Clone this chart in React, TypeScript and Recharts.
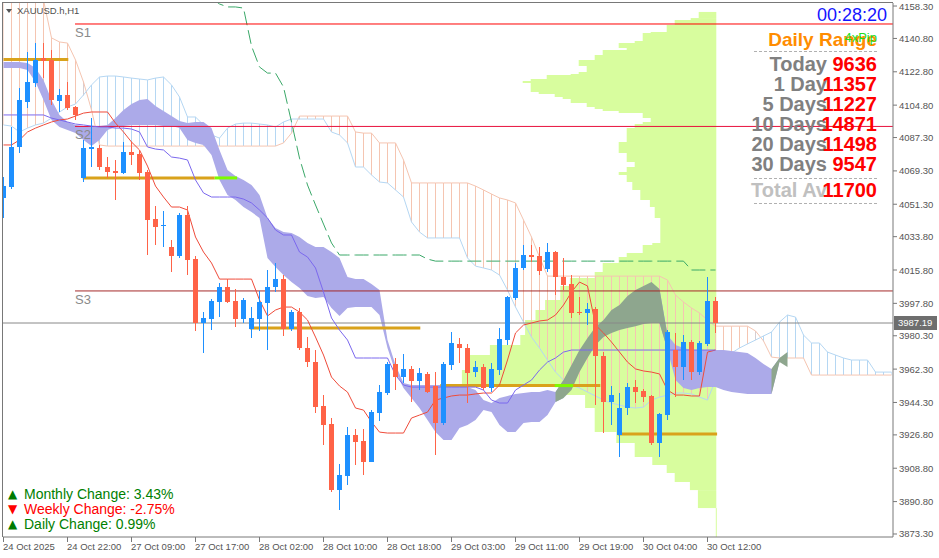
import React from 'react'
import { Area, Bar, ComposedChart, Line, ReferenceArea, ReferenceLine, XAxis, YAxis } from 'recharts'

// XAUUSD.h H1 bars, oldest first
const open = [4054.7, 4060.6, 4082.2, 4106.5, 4116.7, 4130.2, 4129.2, 4107.0, 4110.3, 4103.8,
  4065.5, 4081.1, 4081.6, 4071.4, 4069.2, 4068.2, 4079.5, 4078.4, 4068.7, 4043.3,
  4039.5, 4028.2, 4023.4, 4045.5, 4021.7, 3987.2, 3989.3, 3998.5, 4006.6, 3999.1,
  3989.3, 3983.9, 3989.3, 3998.0, 4006.6, 4010.9, 3983.9, 3993.1, 3973.7, 3966.1,
  3942.4, 3932.7, 3897.0, 3904.6, 3926.7, 3923.5, 3912.2, 3938.6, 3949.4, 3965.1,
  3958.0, 3962.4, 3955.9, 3959.7, 3953.2, 3933.2, 3964.5, 3975.9, 3973.7, 3960.7,
  3963.4, 3952.1, 3961.8, 3978.0, 4000.7, 4016.9, 4023.9, 4023.4, 4016.3, 4025.5,
  4012.0, 4008.2, 3993.1, 3992.6, 3994.7, 3969.4, 3944.5, 3926.7, 3941.3, 3952.6,
  3950.5, 3947.8, 3922.4, 3937.5, 3972.6, 3963.4, 3976.9, 3960.7, 3975.9, 3999.1]
const high = [4066.0, 4093.0, 4114.0, 4133.5, 4138.3, 4138.3, 4134.5, 4113.5, 4117.3, 4104.3,
  4086.0, 4097.8, 4083.3, 4076.8, 4075.2, 4084.9, 4084.9, 4080.6, 4069.8, 4050.3,
  4047.6, 4032.0, 4046.6, 4050.3, 4023.4, 3993.1, 4000.1, 4008.8, 4010.9, 4005.5,
  4000.7, 3995.8, 4004.5, 4015.8, 4019.6, 4013.1, 3994.2, 3995.3, 3979.6, 3972.6,
  3948.3, 3935.9, 3911.1, 3931.1, 3930.0, 3930.0, 3940.2, 3953.7, 3966.1, 3968.3,
  3970.5, 3964.0, 3962.9, 3960.7, 3960.7, 3966.1, 3982.3, 3979.1, 3975.9, 3966.7,
  3965.1, 3965.6, 3984.5, 4001.8, 4019.6, 4029.3, 4029.3, 4028.2, 4030.4, 4026.0,
  4022.3, 4013.1, 4001.2, 3998.0, 3995.8, 3971.5, 3953.2, 3949.4, 3954.8, 3956.4,
  3951.6, 3948.3, 3938.6, 3983.4, 3981.8, 3980.7, 3978.0, 3977.5, 4012.0, 4001.2]
const low = [4043.9, 4059.5, 4079.0, 4103.2, 4114.6, 4119.4, 4104.9, 4101.1, 4102.2, 4096.8,
  4063.3, 4071.4, 4069.8, 4065.5, 4053.6, 4067.6, 4072.5, 4064.4, 4023.9, 4029.3,
  4028.2, 4014.7, 4022.3, 4013.1, 3982.9, 3971.0, 3983.4, 3990.4, 3998.0, 3985.0,
  3987.2, 3979.1, 3982.9, 3972.6, 4003.9, 3980.2, 3982.9, 3972.6, 3963.4, 3938.6,
  3921.3, 3896.0, 3886.2, 3899.7, 3910.5, 3905.1, 3912.2, 3934.3, 3948.3, 3951.0,
  3954.8, 3944.5, 3951.0, 3949.4, 3915.9, 3932.1, 3961.8, 3965.6, 3944.0, 3958.0,
  3951.0, 3949.9, 3959.1, 3975.3, 3999.6, 4015.8, 4020.1, 4013.1, 4014.7, 4002.3,
  4005.0, 3989.9, 3991.5, 3986.1, 3942.9, 3927.8, 3932.1, 3914.9, 3937.5, 3944.0,
  3944.5, 3921.3, 3914.9, 3934.8, 3947.2, 3956.4, 3956.4, 3959.1, 3974.8, 3981.8]
const close = [4061.1, 4082.2, 4107.6, 4117.3, 4129.2, 4128.6, 4107.6, 4110.3, 4103.2, 4099.5,
  4081.6, 4082.2, 4071.4, 4068.7, 4068.2, 4079.5, 4077.9, 4068.2, 4042.8, 4039.0,
  4040.1, 4023.4, 4045.5, 4021.2, 3987.2, 3989.9, 3999.1, 4006.6, 3998.5, 3989.3,
  3999.6, 3989.9, 3998.5, 4006.6, 4010.9, 3983.9, 3993.1, 3973.7, 3966.1, 3941.8,
  3932.1, 3897.0, 3905.1, 3926.7, 3923.0, 3912.2, 3939.1, 3949.9, 3965.1, 3958.0,
  3962.4, 3955.9, 3960.2, 3949.9, 3933.2, 3965.1, 3976.4, 3973.7, 3960.2, 3963.4,
  3952.1, 3962.4, 3978.6, 4001.2, 4016.9, 4023.9, 4022.8, 4015.3, 4025.5, 4012.0,
  4007.7, 3992.6, 3992.6, 3994.7, 3969.4, 3944.5, 3948.3, 3941.3, 3952.6, 3949.9,
  3947.2, 3922.4, 3938.1, 3982.3, 3963.4, 3976.9, 3960.7, 3976.4, 3999.1, 3987.2]

const tenkan = [4083.3, 4083.3, 4086.0, 4090.3, 4092.4, 4094.1, 4095.7, 4096.8, 4097.3, 4098.9,
  4100.5, 4101.1, 4101.1, 4101.1, 4095.1, 4090.3, 4084.9, 4080.6, 4071.9, 4061.1,
  4055.2, 4049.8, 4049.8, 4048.2, 4033.6, 4025.5, 4019.6, 4010.9, 4010.9, 4010.9,
  4010.9, 4010.9, 3999.6, 3991.0, 3994.2, 3995.8, 3995.8, 3993.1, 3988.8, 3979.6,
  3969.9, 3958.0, 3953.2, 3949.9, 3941.3, 3940.2, 3933.8, 3928.3, 3927.8, 3927.8,
  3927.8, 3935.9, 3937.5, 3939.1, 3945.6, 3946.7, 3947.8, 3948.3, 3948.3, 3948.9,
  3949.4, 3949.4, 3953.7, 3967.2, 3981.8, 3986.1, 3987.2, 3988.3, 3988.8, 3991.5,
  3996.9, 4003.9, 4009.3, 4007.2, 3986.1, 3981.8, 3976.9, 3971.5, 3966.1, 3962.4,
  3961.3, 3960.7, 3959.7, 3951.0, 3948.3, 3948.3, 3947.8, 3947.8, 3971.5, 3972.6]
const kijun = [4099.5, 4099.5, 4099.5, 4099.5, 4099.5, 4099.5, 4097.8, 4096.8, 4095.7, 4094.6,
  4094.1, 4093.5, 4093.0, 4093.0, 4092.4, 4092.4, 4091.9, 4090.3, 4082.2, 4081.1,
  4080.6, 4076.8, 4076.2, 4075.2, 4064.4, 4057.4, 4055.2, 4055.2, 4055.2, 4055.2,
  4054.1, 4052.0, 4048.2, 4043.9, 4037.4, 4034.7, 4034.7, 4025.5, 4022.8, 4016.9,
  4003.9, 3989.9, 3983.4, 3978.0, 3968.3, 3968.3, 3968.3, 3968.3, 3968.3, 3959.1,
  3953.7, 3952.6, 3952.6, 3952.6, 3952.6, 3952.6, 3952.6, 3952.6, 3952.6, 3952.6,
  3951.0, 3945.6, 3944.0, 3944.0, 3951.0, 3953.7, 3956.4, 3961.8, 3966.1, 3968.3,
  3971.5, 3972.6, 3972.6, 3972.6, 3972.6, 3972.6, 3972.6, 3972.6, 3972.6, 3972.6,
  3972.6, 3972.6, 3972.6, 3972.6, 3972.6, 3972.6, 3972.6, 3972.6, 3972.6, 3972.6]

// green dashed line, starts at bar 26
const lagStart = 26
const lagLine = [4162.5, 4159.4, 4157.8, 4157.8, 4157.2, 4136.7, 4125.4, 4122.1, 4122.1, 4114.6,
  4095.7, 4076.2, 4061.7, 4050.9, 4040.6, 4030.4, 4023.9,
  4023.9, 4023.9, 4023.9, 4023.9, 4023.9, 4023.9, 4023.9, 4023.9, 4023.9, 4023.9,
  4021.7,
  4020.6, 4020.6, 4020.6, 4020.6, 4020.6, 4020.6, 4020.6, 4020.6, 4020.6, 4020.6,
  4020.6, 4020.6, 4020.6, 4020.6, 4020.6, 4020.6, 4020.6, 4020.6, 4020.6, 4020.6,
  4020.6, 4020.6, 4020.6, 4020.6, 4020.6, 4020.6, 4020.6, 4020.6, 4020.6, 4020.6,
  4020.6, 4020.6,
  4015.8, 4015.8, 4015.8, 4015.8]

// filled cloud
const spanA = [4124.8, 4124.8, 4124.8, 4123.8, 4117.3, 4107.6, 4096.8, 4093.0, 4091.4, 4089.7,
  4086.0, 4082.7, 4086.0, 4091.4, 4093.0, 4093.5, 4094.1, 4094.1, 4094.1, 4094.1,
  4093.5, 4093.5, 4092.4, 4086.0, 4084.4, 4083.3, 4077.9, 4064.4, 4056.3, 4053.6,
  4049.8, 4047.1, 4043.9, 4022.3, 4017.4, 4013.1, 4009.3, 4006.1, 4001.8, 4000.7,
  4001.2, 3995.3, 3991.0, 3995.3, 3995.8, 3995.8, 3995.8, 3991.5, 3973.7, 3960.7,
  3952.1, 3946.7, 3941.3, 3934.8, 3928.3, 3924.0, 3924.0, 3930.5, 3932.1, 3934.8,
  3940.2, 3939.1, 3932.1, 3928.3, 3928.3, 3933.2, 3933.7, 3933.7, 3937.5, 3944.5,
  3956.4, 3964.5, 3972.6, 3979.1, 3985.0, 3988.8, 3994.2, 3996.9, 4001.8, 4005.0,
  4007.2, 4009.3, 4005.5, 3972.6, 3956.4, 3952.1, 3951.0, 3952.1, 3952.6, 3952.6,
  3951.0, 3949.9, 3949.4, 3948.9, 3948.9, 3948.9, 3948.9, 3968.3, 3971.5]
const spanB = [4128.1, 4128.1, 4128.1, 4127.5, 4124.8, 4118.4, 4107.6, 4099.5, 4095.7, 4094.1,
  4093.5, 4093.5, 4093.5, 4094.1, 4097.8, 4102.2, 4105.4, 4107.6, 4108.1, 4104.3,
  4101.6, 4098.9, 4096.2, 4095.1, 4095.7, 4095.7, 4092.4, 4080.6, 4069.8, 4066.5,
  4064.4, 4061.7, 4056.3, 4043.9, 4038.5, 4036.3, 4035.8, 4033.6, 4030.4, 4028.2,
  4028.2, 4025.5, 4022.3, 4012.0, 4010.9, 4010.9, 4008.2, 4005.0, 3978.0, 3964.5,
  3954.8, 3953.7, 3953.7, 3953.7, 3953.7, 3953.7, 3953.7, 3953.2, 3952.6, 3951.0,
  3945.6, 3944.0, 3946.7, 3947.8, 3948.9, 3949.4, 3949.9, 3949.9, 3951.0, 3949.9,
  3946.7, 3951.0, 3960.7, 3968.3, 3975.3, 3979.6, 3981.8, 3983.4, 3984.5, 3985.5,
  3986.6, 3987.2, 3987.2, 3980.7, 3975.3, 3973.7, 3972.6, 3972.6, 3972.6, 3972.6,
  3972.6, 3972.1, 3971.5, 3971.0, 3968.3, 3965.1, 3962.4, 3966.1, 3963.4]

// hatched cloud (higher timeframe)
const hatchSalmon = [4170, 4170, 4170, 4170, 4170, 4161.5, 4141.1, 4138.9, 4138.3, 4129.2,
  4117.3, 4102.2, 4083.3, 4082.7, 4082.7, 4082.7, 4082.7, 4082.7, 4082.7, 4082.7,
  4082.7, 4082.7, 4082.7, 4082.7, 4082.7, 4082.7, 4082.7, 4082.7, 4082.7, 4082.7,
  4082.7, 4082.7, 4082.7, 4082.7, 4082.7, 4084.4, 4089.7, 4098.9, 4098.9, 4098.9,
  4098.9, 4098.9, 4098.9, 4098.9, 4090.3, 4089.7, 4089.7, 4084.4, 4084.4, 4084.4,
  4075.2, 4062.8, 4062.8, 4062.8, 4062.8, 4062.8, 4062.8, 4062.8, 4062.8, 4061.1,
  4059.0, 4056.8, 4054.7, 4053.6, 4052.0, 4042.8, 4033.6, 4022.8, 4012.5, 4012.5,
  4012.5, 4012.5, 4012.5, 4012.5, 4012.5, 4012.5, 4012.5, 4012.5, 4012.5, 4012.5,
  4012.5, 4012.5, 4012.5, 4010.4, 4002.3, 3998.5, 3995.3, 3992.6, 3988.8, 3985.5,
  3985.5, 3985.5, 3985.5, 3985.5, 3982.9, 3977.5, 3968.8, 3968.3, 3968.3, 3968.3,
  3968.3, 3959.1, 3959.1, 3959.1, 3959.1, 3959.1, 3959.1, 3959.1, 3959.1, 3959.1,
  3959.1, 3959.1]
const hatchBlue = [4094.1, 4093.5, 4090.3, 4092.4, 4094.1, 4095.1, 4097.8, 4101.1, 4103.8, 4105.4,
  4110.3, 4115.7, 4120.0, 4120.5, 4120.5, 4120.0, 4119.4, 4118.9, 4118.4, 4119.4,
  4120.0, 4115.7, 4109.2, 4098.4, 4098.4, 4094.1, 4088.7, 4087.0, 4092.4, 4094.6,
  4095.1, 4095.1, 4094.6, 4094.1, 4093.0, 4095.7, 4097.3, 4097.3, 4097.3, 4097.3,
  4097.3, 4090.3, 4088.7, 4084.4, 4071.4, 4071.4, 4067.1, 4063.3, 4062.8, 4059.0,
  4055.2, 4041.7, 4036.3, 4033.1, 4033.1, 4033.1, 4033.1, 4033.1, 4022.3, 4017.9,
  4016.9, 4015.8, 4013.1, 4005.0, 3995.8, 3987.7, 3979.6, 3973.7, 3967.2, 3960.7,
  3956.4, 3953.7, 3952.1, 3949.9, 3947.8, 3945.6, 3944.0, 3942.9, 3941.8, 3941.3,
  3941.8, 3945.6, 3947.2, 3948.3, 3949.4, 3949.4, 3948.9, 3947.2, 3945.6, 3956.4,
  3967.2, 3971.0, 3973.7, 3975.9, 3978.0, 3980.2, 3982.3, 3987.7, 3991.5, 3990.4,
  3980.7, 3976.4, 3976.4, 3971.5, 3969.9, 3968.3, 3967.2, 3967.2, 3967.2, 3960.7,
  3960.7, 3960.7]

// volume profile: price edges (top to bottom) and volume per row
const profEdges = [4155.1, 4151.8, 4150.7, 4148.0, 4144.3, 4143.7, 4139.4, 4138.3, 4135.6, 4134.5,
  4131.9, 4129.2, 4125.9, 4122.7, 4121.6, 4121.0, 4118.9, 4117.8, 4116.7, 4111.9,
  4110.8, 4109.2, 4108.1, 4105.9, 4103.8, 4102.7, 4101.6, 4100.5, 4097.8, 4095.7,
  4094.6, 4092.4, 4084.9, 4082.2, 4078.9, 4074.1, 4071.4, 4068.7, 4067.1, 4063.3,
  4059.0, 4053.6, 4049.8, 4043.9, 4030.4, 4029.3, 4025.0, 4022.8, 4019.6, 4014.7,
  4011.5, 4007.2, 3999.6, 3994.2, 3988.8, 3980.7, 3975.3, 3969.9, 3961.8, 3953.2,
  3948.3, 3941.3, 3928.3, 3922.4, 3914.9, 3910.5, 3906.2, 3901.4, 3897.0, 3887.3]
const profVol = [2.2, 3.2, 5.2, 6.2, 8.2, 9.2, 10.2, 12.2, 11.2, 14.2,
  15.2, 17.2, 16.2, 17.2, 18.2, 21.2, 23.2, 24.2, 23.2, 22.2,
  20.2, 19.2, 18.2, 16.2, 15.2, 14.2, 12.2, 9.2, 8.2, 9.2,
  10.2, 11.2, 12.2, 12.2, 11.2, 10.2, 11.2, 12.2, 11.2, 10.5,
  9.5, 8.3, 7.7, 7.0, 8.0, 9.2, 11.2, 12.2, 14.2, 15.2,
  18.3, 19.5, 21.4, 22.6, 23.9, 24.5, 28.3, 31.4, 31.8, 19.5,
  16.4, 15.2, 12.5, 10.2, 8.0, 6.2, 5.2, 3.3, 2.3]

// support levels and zones
const sLevels = [4148.6, 4093.3, 4004.5]
const sNames = ['S1', 'S2', 'S3']
const sColors = ['#ff0000', '#e8103c', '#a52a2a']
const sFrom = 8.94
const goldFrom = [0, 9.9, 30.8, 54.6, 76.8]
const goldTo = [8.1, 26.4, 52.1, 74.6, 89.2]
const goldPrice = [4129.4, 4065.5, 3984.5, 3953.4, 3927.3]
const limeFrom = [26.4, 68.9]
const limeTo = [29.2, 71.2]
const limePrice = [4065.5, 3953.4]
const bid = 3987.19

const tickIdx = [0, 8, 16, 24, 32, 40, 48, 56, 64, 72, 80, 88]
const tickLabels = ['24 Oct 2025', '24 Oct 22:00', '27 Oct 09:00', '27 Oct 17:00', '28 Oct 02:00', '28 Oct 10:00',
  '28 Oct 18:00', '29 Oct 03:00', '29 Oct 11:00', '29 Oct 19:00', '30 Oct 04:00', '30 Oct 12:00']
const priceTicks = [3873.3, 3890.8, 3908.8, 3926.8, 3944.3, 3962.3, 3980.3, 3997.8, 4015.8, 4033.8,
  4051.3, 4069.3, 4087.3, 4104.8, 4122.8, 4140.8, 4158.3]

const rangeNames = ['Today', '1 Day', '5 Days', '10 Days', '20 Days', '30 Days']
const rangeValues = [9636, 11357, 11227, 14871, 11498, 9547]
const rangeAvg = 11700
const changes = [
  { name: 'Monthly Change', value: '3.43%', up: true },
  { name: 'Weekly Change', value: '-2.75%', up: false },
  { name: 'Daily Change', value: '0.99%', up: true },
]

const FONT = '"Liberation Sans", Arial, sans-serif'
const UP = '#1e90ff'
const DOWN = '#ff6347'
const AXIS = '#787878'
const TXT = '#555555'
const SALMON = '#f5c5b1'
const LBLUE = '#b5d7f3'
const PROFILE = '#d8fd9e'
const GOLD = '#d9a21b'

function split(a: number[], b: number[], i: number, want: boolean) {
  if (i >= a.length) return null
  const side = (k: number) => k >= 0 && k < a.length && (a[k] > b[k]) === want
  return side(i) || side(i - 1) || side(i + 1) ? [Math.min(a[i], b[i]), Math.max(a[i], b[i])] : null
}

const rows = hatchSalmon.map((_, i) => ({
  i,
  o: open[i], h: high[i], l: low[i], c: close[i],
  hl: i < open.length ? [low[i], high[i]] : null,
  tenkan: tenkan[i] ?? null,
  kijun: kijun[i] ?? null,
  lag: i >= lagStart && i - lagStart < lagLine.length ? lagLine[i - lagStart] : null,
  salmon: hatchSalmon[i],
  blue: hatchBlue[i],
  hatchS: split(hatchSalmon, hatchBlue, i, true),
  hatchB: split(hatchSalmon, hatchBlue, i, false),
  kumoG: split(spanA, spanB, i, true),
  kumoP: split(spanA, spanB, i, false),
}))

const profAnchor = open.length - 1 + 0.1

function Candle(props: any) {
  const { x, y, width, height, payload } = props
  if (!payload || payload.o == null || !Number.isFinite(y)) return null
  const top = Math.min(y, y + height)
  const span = Math.abs(height)
  const k = payload.h === payload.l ? 0 : span / (payload.h - payload.l)
  const yo = top + (payload.h - payload.o) * k
  const yc = top + (payload.h - payload.c) * k
  const color = payload.c >= payload.o ? UP : DOWN
  const cx = x + width / 2
  return (
    <g shapeRendering="crispEdges">
      <line x1={cx} x2={cx} y1={top} y2={top + span} stroke={color} />
      <rect x={x} y={Math.min(yo, yc)} width={width} height={Math.max(1, Math.abs(yc - yo))} fill={color} />
    </g>
  )
}

function XTick(props: any) {
  const { x, y, payload } = props
  const k = tickIdx.indexOf(payload.value)
  return (
    <text x={x - 0.5} y={y + 6} fill={TXT} fontSize={9.5} fontFamily={FONT} textAnchor="start">
      {tickLabels[k]}
    </text>
  )
}

function YTick(props: any) {
  const { x, y, payload } = props
  return (
    <text x={x} y={y + 3.5} fill={TXT} fontSize={9.5} fontFamily={FONT} textAnchor="start">
      {payload.value.toFixed(2)}
    </text>
  )
}

const abs = (left: number, top: number, extra: React.CSSProperties = {}): React.CSSProperties => ({
  position: 'absolute', left, top, whiteSpace: 'nowrap', ...extra,
})

export default function App() {
  return (
    <div style={{ position: 'absolute', left: 0, top: 0, width: 939, height: 558, background: '#fff', fontFamily: FONT, overflow: 'hidden' }}>
      <ComposedChart width={939} height={558} data={rows} margin={{ top: 3, right: 0, bottom: 0, left: 3 }}>
        <defs>
          <pattern id="hatchSalmon" patternUnits="userSpaceOnUse" x={3} y={0} width={8} height={8}>
            <rect x={0} y={0} width={1} height={8} fill={SALMON} />
          </pattern>
          <pattern id="hatchBlue" patternUnits="userSpaceOnUse" x={3} y={0} width={8} height={8}>
            <rect x={0} y={0} width={1} height={8} fill={LBLUE} />
          </pattern>
        </defs>
        <XAxis type="number" dataKey="i" domain={[-0.0625, 111.1875]} allowDataOverflow ticks={tickIdx} interval={0}
          tick={(p: any) => <XTick {...p} />} tickSize={5} height={21} stroke={AXIS} />
        <YAxis orientation="right" type="number" domain={[3871.68, 4159.93]} allowDataOverflow ticks={priceTicks} interval={0}
          tick={(p: any) => <YTick {...p} />} tickSize={4} width={46} stroke={AXIS} />

        {profVol.map((v, k) => (
          <ReferenceArea key={'p' + k} x1={profAnchor - v} x2={profAnchor} y1={profEdges[k + 1]} y2={profEdges[k]}
            fill={PROFILE} fillOpacity={1} stroke="none" zIndex={10} />
        ))}
        <ReferenceLine segment={[{ x: profAnchor, y: profEdges[profEdges.length - 1] }, { x: profAnchor, y: 3871.7 }]}
          stroke={PROFILE} zIndex={10} />

        <Area dataKey="hatchS" type="linear" stroke="none" fill="url(#hatchSalmon)" fillOpacity={1} isAnimationActive={false} dot={false} activeDot={false} zIndex={20} />
        <Area dataKey="hatchB" type="linear" stroke="none" fill="url(#hatchBlue)" fillOpacity={1} isAnimationActive={false} dot={false} activeDot={false} zIndex={20} />
        <Line dataKey="salmon" type="linear" stroke={SALMON} strokeWidth={1} dot={false} activeDot={false} isAnimationActive={false} zIndex={21} />
        <Line dataKey="blue" type="linear" stroke={LBLUE} strokeWidth={1} dot={false} activeDot={false} isAnimationActive={false} zIndex={21} />

        <Area dataKey="kumoP" type="linear" stroke="none" fill="#acaae9" fillOpacity={1} isAnimationActive={false} dot={false} activeDot={false} zIndex={30} />
        <Area dataKey="kumoG" type="linear" stroke="none" fill="#8ea68e" fillOpacity={1} isAnimationActive={false} dot={false} activeDot={false} zIndex={30} />

        {goldPrice.map((p, k) => (
          <ReferenceLine key={'g' + k} segment={[{ x: goldFrom[k], y: p }, { x: goldTo[k], y: p }]} stroke={GOLD} strokeWidth={3} zIndex={45} />
        ))}
        {limePrice.map((p, k) => (
          <ReferenceLine key={'l' + k} segment={[{ x: limeFrom[k], y: p }, { x: limeTo[k], y: p }]} stroke="#7cfc00" strokeWidth={3} zIndex={46} />
        ))}

        <Line dataKey="lag" type="linear" stroke="#3aa868" strokeWidth={1} strokeDasharray="14 5" dot={false} activeDot={false} isAnimationActive={false} zIndex={40} />

        {sLevels.map((p, k) => (
          <ReferenceLine key={'s' + k} segment={[{ x: sFrom, y: p }, { x: 111.18, y: p }]} stroke={sColors[k]} zIndex={50}
            label={(lp: any) => (
              <text x={lp.viewBox.x} y={lp.viewBox.y + 13} fill="#8a8a8a" fontSize={13} fontFamily={FONT}>{sNames[k]}</text>
            )} />
        ))}
        <ReferenceLine y={bid} stroke="#888888" zIndex={50} />

        <Line dataKey="tenkan" type="linear" stroke="#ef4b3a" strokeWidth={1} dot={false} activeDot={false} isAnimationActive={false} zIndex={60} />
        <Line dataKey="kijun" type="linear" stroke="#7b68ee" strokeWidth={1} dot={false} activeDot={false} isAnimationActive={false} zIndex={60} />

        <Bar dataKey="hl" barSize={5} isAnimationActive={false} shape={(p: any) => <Candle {...p} />} zIndex={100} />
      </ComposedChart>

      {/* frame */}
      <div style={abs(2, 2, { width: 891, height: 535, borderLeft: `1px solid ${AXIS}`, borderTop: `1px solid ${AXIS}`, boxSizing: 'border-box', pointerEvents: 'none' })} />

      {/* symbol */}
      <div style={abs(6, 9, { width: 0, height: 0, borderLeft: '3px solid transparent', borderRight: '3px solid transparent', borderTop: '4px solid #555' })} />
      <div style={abs(17, 6, { fontSize: 9.5, lineHeight: '9.5px', color: '#505050' })}>XAUUSD.h,H1</div>

      {/* bid tag */}
      <div style={abs(894, 316, { width: 43, height: 14, background: '#6e6e6e', color: '#fff', fontSize: 9.5, lineHeight: '14px', paddingLeft: 4, boxSizing: 'border-box' })}>
        {bid.toFixed(2)}
      </div>

      {/* daily range panel */}
      <div style={abs(760, 6, { width: 127, textAlign: 'right', fontSize: 18, lineHeight: '18px', color: '#1414ff' })}>00:28:20</div>
      <div style={abs(700, 30, { width: 177, textAlign: 'right', fontSize: 19, lineHeight: '19px', fontWeight: 700, color: '#ff8c00' })}>Daily Range</div>
      <div style={abs(800, 31, { width: 77, textAlign: 'right', fontSize: 13, lineHeight: '13px', color: '#22dd22' })}>4xPip</div>
      <div style={abs(754, 51, { width: 123, borderTop: '1px dashed #b0b0b0' })} />
      {rangeNames.map((n, k) => (
        <div key={n} style={abs(680, 54 + k * 20, { width: 147, textAlign: 'right', fontSize: 20, lineHeight: '20px', fontWeight: 700, color: '#808080' })}>{n}</div>
      ))}
      {rangeValues.map((v, k) => (
        <div key={'v' + k} style={abs(780, 54 + k * 20, { width: 97, textAlign: 'right', fontSize: 20, lineHeight: '20px', fontWeight: 700, color: '#ff0000' })}>{v}</div>
      ))}
      <div style={abs(754, 178, { width: 123, borderTop: '1px dashed #b0b0b0' })} />
      <div style={abs(680, 180, { width: 147, textAlign: 'right', fontSize: 20, lineHeight: '20px', fontWeight: 700, color: '#c0c0c0' })}>Total Av</div>
      <div style={abs(780, 180, { width: 97, textAlign: 'right', fontSize: 20, lineHeight: '20px', fontWeight: 700, color: '#ff0000' })}>{rangeAvg}</div>
      <div style={abs(754, 203, { width: 123, borderTop: '1px dashed #b0b0b0' })} />

      {/* change summary */}
      {changes.map((c, k) => (
        <React.Fragment key={c.name}>
          <div style={abs(8, 487 + k * 15, { fontSize: 12, lineHeight: '14px', fontFamily: '"DejaVu Sans", sans-serif', color: c.up ? '#007a00' : '#ff0000' })}>
            {c.up ? '▲' : '▼'}
          </div>
          <div style={abs(24, 487 + k * 15, { fontSize: 14, lineHeight: '14px', color: c.up ? '#008000' : '#ff0000' })}>
            {c.name}: {c.value}
          </div>
        </React.Fragment>
      ))}
    </div>
  )
}
